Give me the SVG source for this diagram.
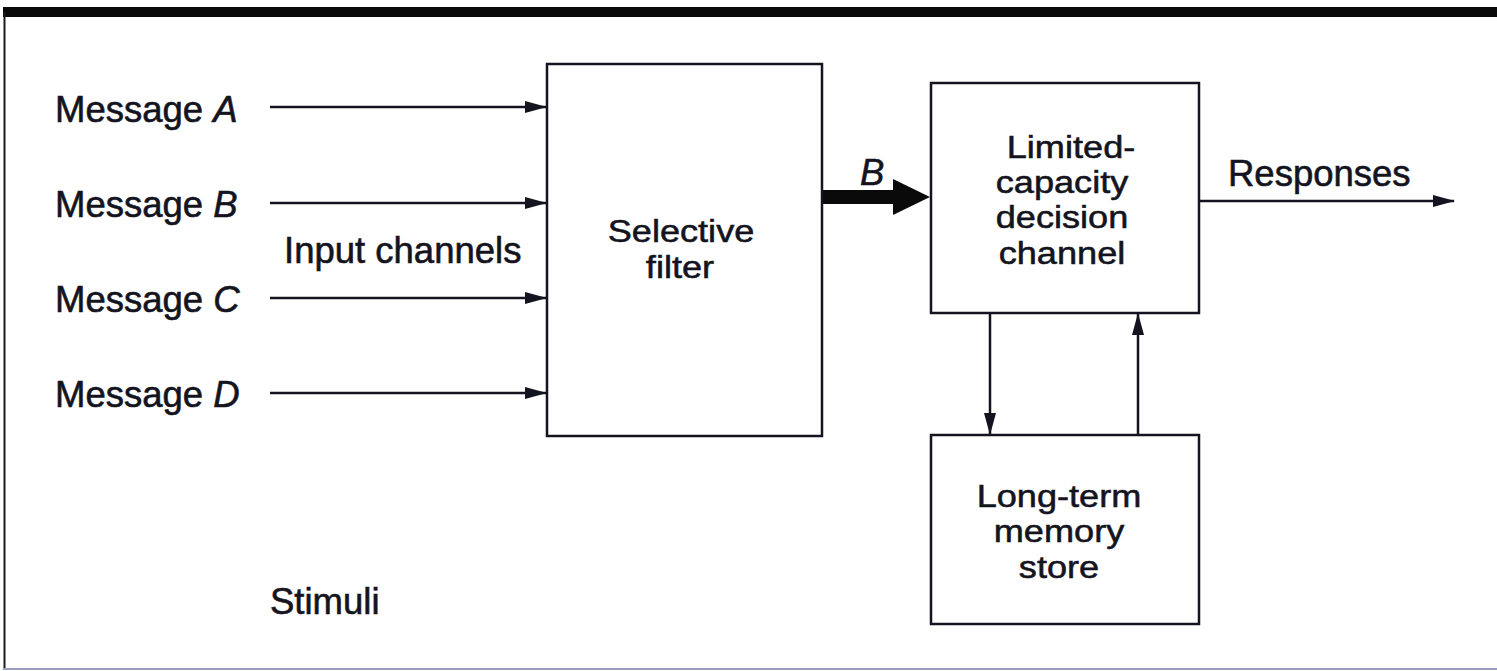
<svg xmlns="http://www.w3.org/2000/svg" width="1497" height="671" viewBox="0 0 1497 671">
<style>
text{font-family:"Liberation Sans",Arial,sans-serif;font-size:36.5px;fill:#141420;stroke:#141420;stroke-width:0.6}
.c{text-anchor:middle;font-size:32px;stroke-width:0.55}
.box{fill:#fff;stroke:#141420;stroke-width:2.5}
.ln{stroke:#141420;stroke-width:2.5;fill:none}
</style>
<defs>
<marker id="ah" markerWidth="22" markerHeight="12" refX="21" refY="6" orient="auto" markerUnits="userSpaceOnUse">
<path d="M0,0 L22,6 L0,12 Z" fill="#141420"/>
</marker>
</defs>
<rect width="1497" height="671" fill="#fff"/>
<g id="frame">
<rect x="3" y="7" width="1494" height="10" fill="#0a0a0a"/>
<line x1="4.5" y1="12" x2="4.5" y2="669" stroke="#1a1a22" stroke-width="2"/>
<line x1="3" y1="669" x2="1497" y2="669" stroke="#9a9cc0" stroke-width="2"/>
</g>
<g id="connectors">
<line class="ln" x1="270" y1="107" x2="546" y2="107" marker-end="url(#ah)"/>
<line class="ln" x1="270" y1="203" x2="546" y2="203" marker-end="url(#ah)"/>
<line class="ln" x1="270" y1="298" x2="546" y2="298" marker-end="url(#ah)"/>
<line class="ln" x1="270" y1="393" x2="546" y2="393" marker-end="url(#ah)"/>
<line x1="822" y1="197" x2="896" y2="197" stroke="#0a0a0a" stroke-width="14"/>
<path d="M893,179 L930,197 L893,215 Z" fill="#0a0a0a"/>
<line class="ln" x1="1199" y1="201" x2="1454" y2="201" marker-end="url(#ah)"/>
<line class="ln" x1="990" y1="313" x2="990" y2="434" marker-end="url(#ah)"/>
<line class="ln" x1="1138" y1="435" x2="1138" y2="314" marker-end="url(#ah)"/>
</g>
<g id="labels">
<text x="55" y="122">Message <tspan font-style="italic">A</tspan></text>
<text x="55" y="217">Message <tspan font-style="italic">B</tspan></text>
<text x="55" y="312">Message <tspan font-style="italic">C</tspan></text>
<text x="55" y="407">Message <tspan font-style="italic">D</tspan></text>
<text x="284" y="263">Input channels</text>
<text x="270" y="614">Stimuli</text>
<text x="860" y="185" font-style="italic">B</text>
<text x="1228" y="186">Responses</text>
</g>
<g id="filter">
<rect class="box" x="547" y="64" width="275" height="372"/>
<text class="c" transform="translate(681,242) scale(1.13,1)">Selective</text>
<text class="c" transform="translate(680,278) scale(1.13,1)">filter</text>
</g>
<g id="decision">
<rect class="box" x="931" y="83" width="268" height="230"/>
<text class="c" transform="translate(1071,158) scale(1.13,1)">Limited-</text>
<text class="c" transform="translate(1062,193) scale(1.13,1)">capacity</text>
<text class="c" transform="translate(1062,228) scale(1.13,1)">decision</text>
<text class="c" transform="translate(1062,264) scale(1.13,1)">channel</text>
</g>
<g id="memory">
<rect class="box" x="931" y="435" width="268" height="189"/>
<text class="c" transform="translate(1059,507) scale(1.13,1)">Long-term</text>
<text class="c" transform="translate(1059,542) scale(1.13,1)">memory</text>
<text class="c" transform="translate(1059,578) scale(1.13,1)">store</text>
</g>
</svg>
